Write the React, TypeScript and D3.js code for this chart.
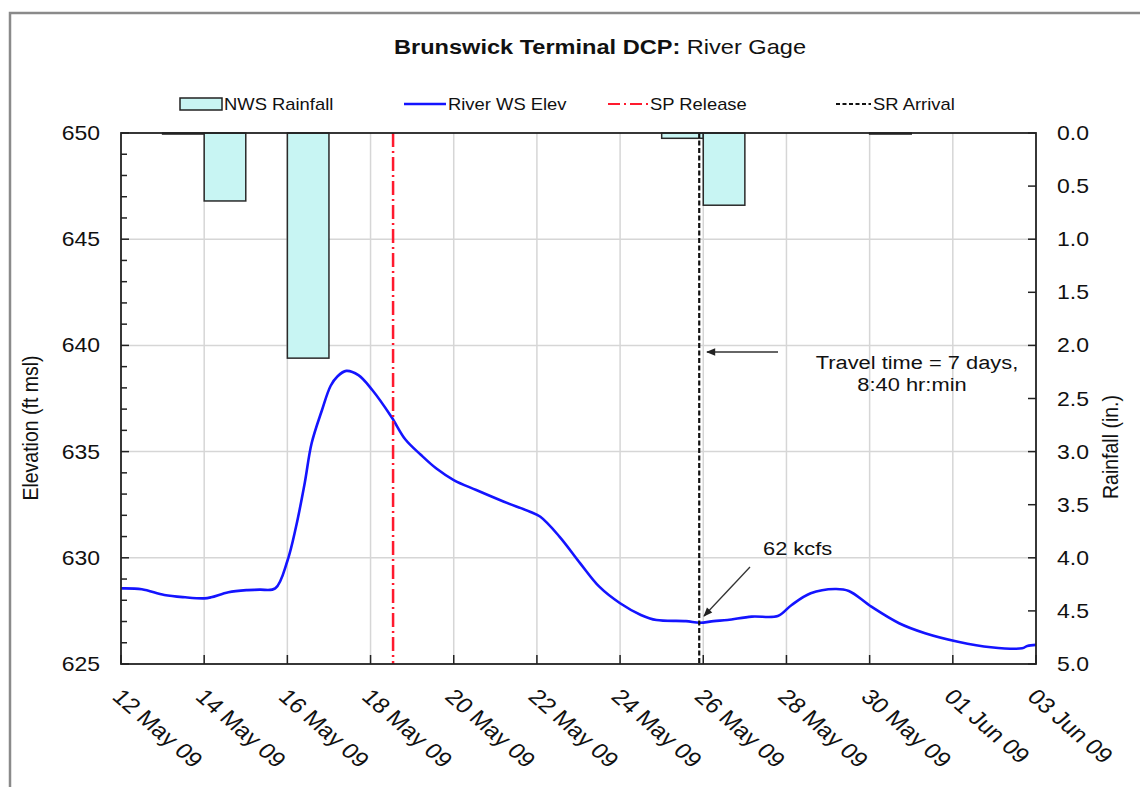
import React from "react";
import * as d3 from "d3";

// ---------- data ----------
const elevTimes = [
  "2009-05-12 00:00", "2009-05-12 12:00", "2009-05-13 01:00", "2009-05-13 13:00",
  "2009-05-14 00:00", "2009-05-14 04:00", "2009-05-14 14:00", "2009-05-15 01:00",
  "2009-05-15 08:00", "2009-05-15 17:00", "2009-05-16 00:00", "2009-05-16 05:00",
  "2009-05-16 10:00", "2009-05-16 14:00", "2009-05-16 20:00", "2009-05-17 01:00",
  "2009-05-17 05:00", "2009-05-17 10:00", "2009-05-17 17:00", "2009-05-18 01:00",
  "2009-05-18 12:00", "2009-05-18 20:00", "2009-05-19 05:00", "2009-05-19 14:00",
  "2009-05-20 00:00", "2009-05-20 13:00", "2009-05-21 05:00", "2009-05-21 20:00",
  "2009-05-22 02:00", "2009-05-22 13:00", "2009-05-23 01:00", "2009-05-23 12:00",
  "2009-05-24 00:00", "2009-05-24 12:00", "2009-05-24 21:00", "2009-05-25 14:00",
  "2009-05-25 22:00", "2009-05-26 06:00", "2009-05-26 14:00", "2009-05-27 04:00",
  "2009-05-27 19:00", "2009-05-28 03:00", "2009-05-28 14:00", "2009-05-29 04:00",
  "2009-05-29 12:00", "2009-05-30 01:00", "2009-05-30 17:00", "2009-05-31 08:00",
  "2009-06-01 03:00", "2009-06-01 22:00", "2009-06-02 16:00", "2009-06-02 19:00",
  "2009-06-03 00:00",
];
const elevValues = [
  628.56, 628.52, 628.25, 628.14,
  628.09, 628.14, 628.38, 628.48,
  628.5, 628.56, 629.85, 631.46,
  633.51, 635.39, 636.96, 638.1,
  638.55, 638.8, 638.6, 637.9,
  636.64, 635.58, 634.85, 634.2,
  633.66, 633.19, 632.64, 632.17,
  631.93, 631.0, 629.74, 628.64,
  627.86, 627.31, 627.07, 627.02,
  626.94, 627.02, 627.07, 627.23,
  627.26, 627.78, 628.33, 628.53,
  628.44, 627.7, 626.92, 626.45,
  626.05, 625.79, 625.74, 625.85,
  625.9,
];

const rainDays = [
  "2009-05-12", "2009-05-13", "2009-05-14", "2009-05-15", "2009-05-16", "2009-05-17",
  "2009-05-18", "2009-05-19", "2009-05-20", "2009-05-21", "2009-05-22", "2009-05-23",
  "2009-05-24", "2009-05-25", "2009-05-26", "2009-05-27", "2009-05-28", "2009-05-29",
  "2009-05-30", "2009-05-31", "2009-06-01", "2009-06-02",
];
const rainValues = [
  0, 0.01, 0.64, 0, 2.12, 0,
  0, 0, 0, 0, 0, 0,
  0, 0.05, 0.68, 0, 0, 0,
  0.01, 0, 0, 0,
];

const spRelease = "2009-05-18 13:00";
const srArrival = "2009-05-25 21:40";

const xTickDates = [
  "2009-05-12", "2009-05-14", "2009-05-16", "2009-05-18", "2009-05-20", "2009-05-22",
  "2009-05-24", "2009-05-26", "2009-05-28", "2009-05-30", "2009-06-01", "2009-06-03",
];
const elevTicks = [625, 630, 635, 640, 645, 650];
const rainTicks = [0, 0.5, 1, 1.5, 2, 2.5, 3, 3.5, 4, 4.5, 5];

const titleBold = "Brunswick Terminal DCP:";
const titleRegular = "River Gage";
const legendLabels = ["NWS Rainfall", "River WS Elev", "SP Release", "SR Arrival"];

// ---------- layout ----------
const W = 1140;
const H = 787;
const L = 121, R = 1036, T = 133, B = 664;
const S = 1.15; // horizontal text stretch
const FONT = "'Liberation Sans', Arial, sans-serif";

const parseT = d3.timeParse("%Y-%m-%d %H:%M");
const parseD = d3.timeParse("%Y-%m-%d");
const fmt = d3.timeFormat("%d %b %y");

const x = d3.scaleTime().domain([parseD("2009-05-12")!, parseD("2009-06-03")!]).range([L, R]);
const yE = d3.scaleLinear().domain([625, 650]).range([B, T]);
const yR = d3.scaleLinear().domain([0, 5]).range([T, B]);

function ST(props: {
  x: number; y: number; size: number; rot?: number; anchor?: string; weight?: string | number;
  fill?: string; children: React.ReactNode;
}) {
  const { x: tx, y: ty, size, rot = 0, anchor = "start", weight = "normal", fill = "#111", children } = props;
  return (
    <text
      transform={`translate(${tx},${ty}) scale(${S},1) rotate(${rot})`}
      textAnchor={anchor as any}
      fontSize={size}
      fontWeight={weight as any}
      fontFamily={FONT}
      fill={fill}
    >
      {children}
    </text>
  );
}

export default function App() {
  const elevData = elevTimes.map((t, i) => ({ t: parseT(t)!, v: elevValues[i] }));
  const line = d3
    .line<{ t: Date; v: number }>()
    .x((d) => x(d.t))
    .y((d) => yE(d.v))
    .curve(d3.curveCatmullRom.alpha(0.5));

  const rain = rainDays.map((d, i) => {
    const t0 = parseD(d)!;
    return { t0, t1: d3.timeDay.offset(t0, 1), v: rainValues[i] };
  });

  const xTicks = xTickDates.map((d) => parseD(d)!);
  const minorElev = d3.range(626, 650, 1).filter((v) => v % 5 !== 0);
  const spX = x(parseT(spRelease)!);
  const srX = x(parseT(srArrival)!);

  return (
    <svg
      width={W}
      height={H}
      style={{ position: "absolute", left: 0, top: 0, background: "#fff" }}
    >
      <defs>
        <clipPath id="plot">
          <rect x={L} y={T} width={R - L} height={B - T} />
        </clipPath>
        <marker id="arr" viewBox="0 0 10 10" refX="9" refY="5" markerWidth="9" markerHeight="7" orient="auto">
          <path d="M0,1 L10,5 L0,9 z" fill="#222" />
        </marker>
      </defs>
      <rect x={0} y={0} width={W} height={H} fill="#fff" />
      {/* outer frame */}
      <rect x={10} y={13} width={W + 50} height={H + 50} fill="none" stroke="#8a8a8a" strokeWidth={2.5} />

      {/* title */}
      <text
        transform={`translate(${600},${54}) scale(${S},1)`}
        textAnchor="middle"
        fontSize={20.5}
        fontFamily={FONT}
        fill="#111"
      >
        <tspan fontWeight="bold">{titleBold}</tspan>
        <tspan> {titleRegular}</tspan>
      </text>

      {/* legend */}
      <g>
        <rect x={180} y={98} width={42} height={12} fill="#c8f5f3" stroke="#222" strokeWidth={1.5} />
        <ST x={224} y={110} size={16}>{legendLabels[0]}</ST>
        <line x1={404} x2={446} y1={104} y2={104} stroke="#1414ff" strokeWidth={2.5} />
        <ST x={448} y={110} size={16}>{legendLabels[1]}</ST>
        <line x1={608} x2={649} y1={104} y2={104} stroke="#ff1a2e" strokeWidth={2} strokeDasharray="12 4 2 4" />
        <ST x={650} y={110} size={16}>{legendLabels[2]}</ST>
        <line x1={836} x2={871} y1={104} y2={104} stroke="#111" strokeWidth={2} strokeDasharray="4 2.5" />
        <ST x={873} y={110} size={16}>{legendLabels[3]}</ST>
      </g>

      {/* gridlines */}
      <g stroke="#d6d6d6" strokeWidth={1.5}>
        {elevTicks.filter((v) => v !== 625 && v !== 650).map((v) => (
          <line key={"h" + v} x1={L} x2={R} y1={yE(v)} y2={yE(v)} />
        ))}
        {xTicks.slice(1, -1).map((d, i) => (
          <line key={"v" + i} x1={x(d)} x2={x(d)} y1={T} y2={B} />
        ))}
      </g>

      {/* rainfall bars */}
      <g>
        {rain.filter((r) => r.v > 0).map((r, i) => (
          <rect
            key={"r" + i}
            x={x(r.t0)}
            y={yR(0)}
            width={x(r.t1) - x(r.t0)}
            height={Math.max(yR(r.v) - yR(0), 0.5)}
            fill="#c8f5f3"
            stroke="#2a2a2a"
            strokeWidth={1.5}
          />
        ))}
      </g>

      {/* river line */}
      <path d={line(elevData) || ""} fill="none" stroke="#1414ff" strokeWidth={2.6} clipPath="url(#plot)" />

      {/* event lines */}
      <line x1={spX} x2={spX} y1={T} y2={B} stroke="#ff1a2e" strokeWidth={2.5} strokeDasharray="14 4 2 4" />
      <line x1={srX} x2={srX} y1={T} y2={B} stroke="#111" strokeWidth={2.2} strokeDasharray="5 2.5" />

      {/* plot frame */}
      <rect x={L} y={T} width={R - L} height={B - T} fill="none" stroke="#222" strokeWidth={1.8} />

      {/* ticks */}
      <g stroke="#222" strokeWidth={1.5}>
        {elevTicks.map((v) => (
          <line key={"lt" + v} x1={L} x2={L + 8} y1={yE(v)} y2={yE(v)} />
        ))}
        {minorElev.map((v) => (
          <line key={"lm" + v} x1={L} x2={L + 6} y1={yE(v)} y2={yE(v)} />
        ))}
        {rainTicks.map((v) => (
          <line key={"rt" + v} x1={R} x2={R - 8} y1={yR(v)} y2={yR(v)} />
        ))}
        {xTicks.map((d, i) => (
          <line key={"bt" + i} x1={x(d)} x2={x(d)} y1={B} y2={B - 9} />
        ))}
      </g>

      {/* tick labels */}
      {elevTicks.map((v) => (
        <ST key={"ll" + v} x={100} y={yE(v) + 7} size={20} anchor="end">{d3.format("d")(v)}</ST>
      ))}
      {rainTicks.map((v) => (
        <ST key={"rl" + v} x={1057} y={yR(v) + 7} size={20}>{d3.format(".1f")(v)}</ST>
      ))}
      {xTicks.map((d, i) => (
        <ST key={"xl" + i} x={x(d) - 10} y={B + 34} size={21.5} rot={45}>{fmt(d)}</ST>
      ))}

      {/* axis titles */}
      <ST x={38} y={428} size={19.5} rot={-90} anchor="middle">Elevation (ft msl)</ST>
      <ST x={1118} y={447} size={19.5} rot={-90} anchor="middle">Rainfall (in.)</ST>

      {/* annotations */}
      <line x1={778} x2={707} y1={352} y2={352} stroke="#333" strokeWidth={1.3} markerEnd="url(#arr)" />
      <ST x={917} y={369} size={19} anchor="middle">Travel time = 7 days,</ST>
      <ST x={912} y={391} size={19} anchor="middle">8:40 hr:min</ST>
      <line x1={750} x2={704} y1={567} y2={616} stroke="#333" strokeWidth={1.3} markerEnd="url(#arr)" />
      <ST x={763} y={555} size={19}>62 kcfs</ST>
    </svg>
  );
}
